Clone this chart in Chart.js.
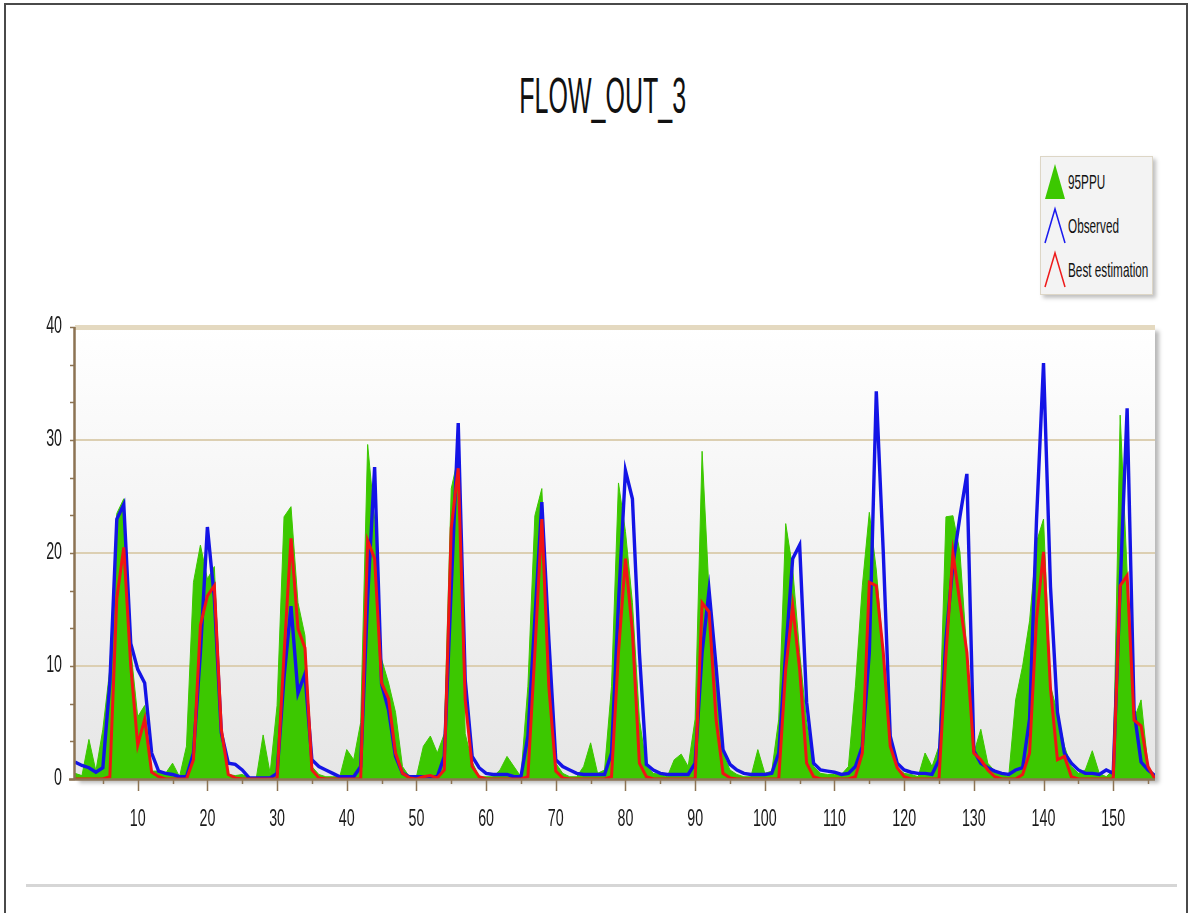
<!DOCTYPE html>
<html>
<head>
<meta charset="utf-8">
<script src="https://cdn.jsdelivr.net/npm/chart.js@4.4.1/dist/chart.umd.min.js"></script>
<style>
  html, body { margin: 0; padding: 0; background: #fff; }
  body { width: 1188px; height: 913px; position: relative; overflow: hidden; font-family: 'Liberation Sans', Arial, sans-serif; }
  .frame { position: absolute; left: 4px; top: 3px; width: 1180px; height: 920px; border: 2px solid #4a4a4a; }
  .title { position: absolute; left: 9px; width: 1188px; top: 71px; text-align: center; font-size: 50px; line-height: 50px; color: #111; }
  .title span { display: inline-block; transform: scaleX(0.5); transform-origin: center; }
  .sep { position: absolute; left: 26px; top: 884px; width: 1151px; height: 3px; background: #d6d6d6; }
  .legend { position: absolute; left: 1040px; top: 156px; width: 111px; height: 137px; background: #f3f3f3; border: 1px solid #ddd6c6; box-shadow: 3px 3px 4px rgba(0,0,0,0.25); }
  .item { position: absolute; left: 2px; height: 42px; width: 110px; }
  .item svg { position: absolute; left: 0; top: 0; }
  .item span { position: absolute; left: 25px; top: 9px; font-size: 21px; color: #111; white-space: nowrap; transform: scaleX(0.56); transform-origin: left center; }
  #wrap { position: absolute; left: 0; top: 0; width: 1188px; height: 913px; }
</style>
</head>
<body>
<div class="frame"></div>
<div class="title"><span>FLOW_OUT_3</span></div>
<div class="legend">
  <div class="item" style="top:4px">
    <svg width="24" height="42"><polygon points="12,3 2,38 22,38" fill="#3cc800"/></svg>
    <span>95PPU</span>
  </div>
  <div class="item" style="top:48px">
    <svg width="24" height="42"><polyline points="2,38 12,4 22,38" fill="none" stroke="#1a1aee" stroke-width="1.5"/></svg>
    <span>Observed</span>
  </div>
  <div class="item" style="top:92px">
    <svg width="24" height="42"><polyline points="2,38 12,4 22,38" fill="none" stroke="#ee1a1a" stroke-width="1.5"/></svg>
    <span>Best estimation</span>
  </div>
</div>
<div class="sep"></div>
<div id="wrap"><canvas id="chart" width="1188" height="913"></canvas></div>

<script>
// months 1..156 (13 years of monthly flow)
const months = Array.from({ length: 156 }, (_, i) => i + 1);

// 95PPU upper band, one row per year
const ppu95 = [
  0.5, 0.3, 3.5, 0.7, 4.4, 9.7, 23.5, 24.8, 11.5, 5.5, 6.5, 0.7,
  0.7, 0.5, 1.4, 0.2, 2.9, 17.4, 20.7, 17.7, 18.8, 4.4, 0.4, 0.3,
  0.4, 0.1, 0, 3.9, 0.5, 6.5, 23.2, 24.1, 15.6, 12.7, 1.1, 0.4,
  0.2, 0.2, 0.2, 2.6, 1.7, 5, 29.6, 23, 10.6, 8.5, 5.9, 1.1,
  0.2, 0.2, 2.9, 3.8, 2.3, 4, 25.7, 28.5, 4, 1.5, 0.2, 0.2,
  0.2, 0.8, 2, 1.1, 0.2, 8.2, 23.3, 25.7, 11.2, 1.4, 0.5, 0.2,
  0.2, 1.1, 3.2, 0.5, 0.8, 8.2, 26.2, 21.9, 15.6, 5.3, 1.1, 0.5,
  0.4, 0.2, 1.7, 2.2, 1.1, 5.3, 29, 16.5, 8.2, 2.3, 0.8, 0.4,
  0.2, 0.2, 2.6, 0.5, 0.7, 5.3, 22.6, 18.6, 11.2, 5, 1.1, 0.5,
  0.4, 0.4, 0.4, 1.1, 8.2, 17.1, 23.6, 18.5, 11.2, 3.2, 1, 0.5,
  0.4, 0.2, 2.3, 1.1, 2.9, 23.2, 23.3, 20.1, 11.2, 2.3, 4.4, 1.4,
  0.7, 0.4, 0.2, 7, 10, 14, 21, 23, 8.2, 5.9, 2.9, 1.1,
  0.5, 0.8, 2.5, 0.5, 0.2, 0.8, 32.2, 18.3, 5.3, 7, 1.1, 0.2
];

const observed = [
  1.5, 1.2, 1.0, 0.6, 1.0, 8.5, 23, 24.3, 12, 9.7, 8.5, 2.3,
  0.7, 0.5, 0.4, 0.2, 0.2, 2.3, 11.2, 22.3, 16, 4.1, 1.4, 1.3,
  0.8, 0.1, 0.1, 0.1, 0.1, 0.5, 9, 15.3, 7.6, 9.3, 1.7, 1.1,
  0.8, 0.5, 0.2, 0.2, 0.2, 1.1, 16, 27.6, 8.4, 6.1, 2, 0.5,
  0.2, 0.2, 0.2, 0.2, 0.2, 2, 17, 31.5, 8.8, 2, 1, 0.5,
  0.4, 0.4, 0.4, 0.2, 0.2, 3.8, 14.2, 24.5, 12.4, 1.7, 1.1, 0.8,
  0.5, 0.4, 0.4, 0.4, 0.4, 2.3, 15.6, 27.3, 24.8, 11.2, 1.3, 0.8,
  0.5, 0.4, 0.4, 0.4, 0.4, 1.4, 11.2, 16.7, 10, 2.6, 1.3, 0.8,
  0.5, 0.4, 0.4, 0.4, 0.5, 2.3, 11.2, 19.5, 20.7, 6.8, 1.4, 0.8,
  0.7, 0.6, 0.4, 0.5, 1.1, 2.9, 11.2, 34.3, 20.1, 3.8, 1.4, 0.8,
  0.6, 0.5, 0.5, 0.4, 1.7, 12.4, 19, 23.2, 27, 2.5, 1.4, 1,
  0.7, 0.5, 0.4, 0.8, 1, 5.3, 23, 36.8, 17, 5.9, 2.3, 1.4,
  0.8, 0.5, 0.5, 0.4, 0.8, 0.5, 17, 32.8, 6, 1.5, 0.8, 0.3
];

const bestEst = [
  0, 0, 0, 0, 0, 0.2, 16, 20.5, 10, 3, 5.3, 0.6,
  0.2, 0, 0, 0, 0, 1.7, 13.6, 16.2, 17.1, 4.4, 0.4, 0.1,
  0, 0, 0, 0, 0, 0, 11, 21.3, 13.3, 11.6, 0.8, 0.1,
  0, 0, 0, 0, 0, 0, 21.1, 19.5, 8.5, 7.1, 2.3, 0.5,
  0.1, 0, 0.2, 0.3, 0.1, 0.8, 22.2, 27.5, 7, 1.1, 0.2, 0,
  0, 0, 0, 0, 0, 0.2, 11.2, 23, 8.2, 0.7, 0.1, 0,
  0, 0, 0, 0, 0, 0.2, 11.2, 19.5, 13, 1.4, 0.2, 0,
  0, 0, 0, 0, 0, 0, 15.6, 14.8, 5.3, 0.5, 0.1, 0,
  0, 0, 0, 0, 0, 0, 9.7, 15.3, 9.7, 1.4, 0.2, 0,
  0, 0, 0, 0, 0.2, 2.3, 17.4, 17.1, 11.2, 2.9, 1, 0.2,
  0, 0, 0, 0, 0, 11, 20, 15.6, 11.2, 2.3, 1.7, 0.8,
  0.2, 0, 0, 0, 0.4, 2.3, 14.2, 20.1, 8, 1.7, 2, 0.2,
  0, 0, 0, 0, 0, 0, 17.1, 18, 5.2, 4.7, 1.1, 0
];

const xTicks = [10, 20, 30, 40, 50, 60, 70, 80, 90, 100, 110, 120, 130, 140, 150];
const yTicks = [0, 10, 20, 30, 40];

const pts = arr => months.map((m, i) => ({ x: m, y: arr[i] }));

// squeezed text, the source image is narrow-looking
function narrowText(ctx, txt, x, y, align) {
  ctx.save();
  ctx.translate(x, y);
  ctx.scale(0.62, 1);
  ctx.textAlign = align;
  ctx.textBaseline = 'middle';
  ctx.fillText(txt, 0, 0);
  ctx.restore();
}

const plotFrame = {
  id: 'plotFrame',
  beforeDraw(chart) {
    const { ctx, chartArea: a } = chart;
    ctx.save();
    ctx.shadowColor = 'rgba(0,0,0,0.28)';
    ctx.shadowOffsetX = 4; ctx.shadowOffsetY = 4; ctx.shadowBlur = 4;
    const g = ctx.createLinearGradient(0, a.top, 0, a.bottom);
    g.addColorStop(0, '#ffffff');
    g.addColorStop(1, '#e6e6e6');
    ctx.fillStyle = g;
    ctx.fillRect(a.left, a.top, a.right - a.left, a.bottom - a.top);
    ctx.restore();
  },
  afterDraw(chart) {
    const { ctx, chartArea: a, scales: { x, y } } = chart;
    ctx.save();
    ctx.strokeStyle = '#8c7353';
    ctx.lineWidth = 1.5;
    ctx.beginPath();
    // x axis ticks: long at tens, short at fives
    for (let v = 5; v <= 155; v += 5) {
      const px = Math.round(x.getPixelForValue(v)) + 0.5;
      ctx.moveTo(px, a.bottom);
      ctx.lineTo(px, a.bottom + (v % 10 === 0 ? 12 : 5));
    }
    // y axis ticks every third of 10
    for (let k = 0; k <= 12; k++) {
      const py = Math.round(y.getPixelForValue(k * 10 / 3)) + 0.5;
      ctx.moveTo(a.left, py);
      ctx.lineTo(a.left - 5, py);
    }
    ctx.stroke();
    // axis lines
    ctx.lineWidth = 2.5;
    ctx.beginPath();
    ctx.moveTo(a.left - 6, a.bottom + 0.5);
    ctx.lineTo(a.right, a.bottom + 0.5);
    ctx.moveTo(a.left - 0.5, a.top);
    ctx.lineTo(a.left - 0.5, a.bottom);
    ctx.stroke();

    ctx.fillStyle = '#1a1a1a';
    ctx.font = "23px 'Liberation Sans', Arial, sans-serif";
    xTicks.forEach(v => narrowText(ctx, String(v), x.getPixelForValue(v), a.bottom + 41, 'center'));
    yTicks.forEach(v => narrowText(ctx, String(v), a.left - 13, y.getPixelForValue(v), 'right'));
    ctx.restore();
  }
};

new Chart(document.getElementById('chart'), {
  type: 'line',
  data: {
    datasets: [
      { label: '95PPU', data: pts(ppu95), borderColor: '#3cc800', borderWidth: 1, backgroundColor: '#3cc800', fill: 'origin', pointRadius: 0, order: 3 },
      { label: 'Observed', data: pts(observed), borderColor: '#1414e6', borderWidth: 3.4, fill: false, pointRadius: 0, order: 2 },
      { label: 'Best estimation', data: pts(bestEst), borderColor: '#f01414', borderWidth: 3, fill: false, pointRadius: 0, order: 1 }
    ]
  },
  options: {
    responsive: false,
    animation: false,
    events: [],
    layout: { padding: { left: 75, right: 33, top: 327, bottom: 134 } },
    plugins: { legend: { display: false }, tooltip: { enabled: false }, title: { display: false } },
    elements: { line: { tension: 0 } },
    scales: {
      x: {
        type: 'linear', min: 1, max: 156,
        grid: { display: false },
        border: { display: false },
        ticks: { display: false },
        afterFit: s => { s.height = 0; }
      },
      y: {
        min: 0, max: 40,
        afterBuildTicks: s => { s.ticks = yTicks.map(v => ({ value: v })); },
        grid: {
          drawTicks: false,
          color: c => c.tick.value === 0 ? 'rgba(0,0,0,0)' : (c.tick.value === 40 ? '#e4d9c0' : '#dccfb2'),
          lineWidth: c => c.tick.value === 40 ? 5 : 2
        },
        border: { display: false },
        ticks: { display: false },
        afterFit: s => { s.width = 0; }
      }
    }
  },
  plugins: [plotFrame]
});
</script>
</body>
</html>
